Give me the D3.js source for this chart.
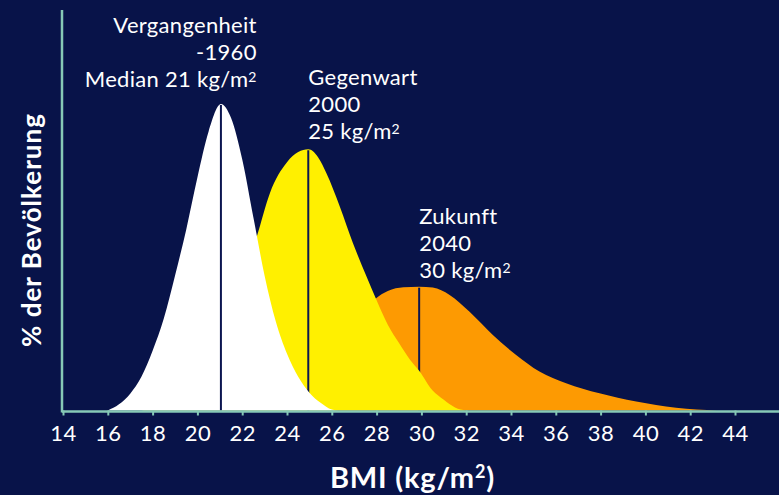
<!DOCTYPE html>
<html>
<head>
<meta charset="utf-8">
<script src="https://cdn.jsdelivr.net/npm/d3@7"></script>
<style>
  html, body { margin: 0; padding: 0; background: #081349; }
  svg { display: block; font-family: "Lato", "Noto Sans", sans-serif; }
</style>
</head>
<body>
<script>
// BMI tick labels on the x axis
var bmiTicks = [14, 16, 18, 20, 22, 24, 26, 28, 30, 32, 34, 36, 38, 40, 42, 44];

// share of population (relative, peak of 1960 = 100) by BMI
var past1960 = [[16, 0], [16.5, 2], [17, 5.5], [17.5, 11], [18, 19.5], [18.5, 30], [19, 44], [19.5, 59],
  [20, 76], [20.5, 91], [21.05, 100], [21.5, 95.5], [22, 82], [22.5, 63], [23, 44], [23.5, 29],
  [24, 18.5], [24.5, 11], [25, 5.8], [25.5, 2.5], [26, 0.3], [26.3, 0]];
var present2000 = [[17.5, 0], [18, 1], [19, 5], [20, 12], [21, 25], [22, 42], [22.65, 56.7], [23.24, 71],
  [24, 81], [24.5, 84.3], [24.95, 85.2], [25.4, 82.5], [25.76, 77.4], [26.36, 66.5], [26.95, 54.5],
  [27.55, 43.7], [28, 36], [28.5, 28], [29, 22], [29.5, 16.5], [29.9, 13], [30.5, 6.5], [31, 3.5],
  [31.5, 1], [32, 0]];
var future2040 = [[22, 0], [23, 1], [24, 4], [25, 9], [26, 17], [27, 27], [27.5, 32.5], [27.98, 36.6],
  [28.5, 39], [29.2, 40.2], [29.9, 40.4], [30.51, 40.1], [31.26, 37.7], [32.15, 32.2], [33.19, 24.6],
  [34.23, 18.1], [35.27, 12.7], [36.46, 8.9], [37.95, 5.6], [39.59, 2.9], [41.37, 0.9], [43.2, 0]];

var seriesColors = ["#fd9a02", "#fff000", "#ffffff"];
var medianBMI = [29.9, 24.95, 21.05];
var medianShare = [40.4, 85.2, 100];

var labelLines = [
  ["Zukunft", "2040", "30 kg/m"],
  ["Gegenwart", "2000", "25 kg/m"],
  ["Vergangenheit", "-1960", "Median 21 kg/m"]
];

var width = 779, height = 495;
var svg = d3.select("body").append("svg")
  .attr("width", width)
  .attr("height", height);

svg.append("rect").attr("width", width).attr("height", height).attr("fill", "#081349");

var x = d3.scaleLinear().domain([14, 44]).range([63, 735]);
var y = d3.scaleLinear().domain([0, 100]).range([410.5, 104]);

var area = d3.area()
  .x(function(d) { return x(d[0]); })
  .y0(y(0))
  .y1(function(d) { return y(d[1]); })
  .curve(d3.curveMonotoneX);

var curves = [future2040, present2000, past1960];

// back to front: orange, yellow, white; each median line sits under the next curve
curves.forEach(function(c, i) {
  svg.append("path")
    .datum(c)
    .attr("d", area)
    .attr("fill", seriesColors[i]);
  svg.append("line")
    .attr("x1", x(medianBMI[i])).attr("x2", x(medianBMI[i]))
    .attr("y1", y(medianShare[i]) + 1).attr("y2", y(0))
    .attr("stroke", "#0b1550")
    .attr("stroke-width", 2);
});

// axes
var axisColor = "#86c9b6";
var xAxis = svg.append("g")
  .attr("transform", "translate(0," + y(0) + ")")
  .call(d3.axisBottom(x).tickValues(bmiTicks).tickSize(5).tickSizeOuter(0).tickPadding(10));
xAxis.select(".domain").remove();
xAxis.selectAll(".tick line").attr("stroke", axisColor).attr("stroke-width", 2);
xAxis.selectAll(".tick text")
  .attr("fill", "#ffffff")
  .attr("font-size", 22)
  .attr("letter-spacing", 0.5)
  .attr("font-family", "Lato, sans-serif");

svg.append("line")
  .attr("x1", x(14) - 1).attr("x2", width)
  .attr("y1", y(0) + 1).attr("y2", y(0) + 1)
  .attr("stroke", axisColor).attr("stroke-width", 2.5);
svg.append("line")
  .attr("x1", x(14) - 1).attr("x2", x(14) - 1)
  .attr("y1", 10).attr("y2", y(0) + 2)
  .attr("stroke", axisColor).attr("stroke-width", 2.5);

// annotations
function addLabel(lines, xPos, yPos, anchor) {
  var t = svg.append("text")
    .attr("fill", "#ffffff")
    .attr("font-size", 22)
    .attr("letter-spacing", 0.3)
    .attr("text-anchor", anchor);
  lines.forEach(function(s, k) {
    t.append("tspan").attr("x", xPos).attr("y", yPos + k * 27).text(s);
    if (k === lines.length - 1) {
      t.append("tspan").attr("font-size", 14).attr("dy", -5).text("2");
    }
  });
}
addLabel(labelLines[0], x(medianBMI[0]), y(medianShare[0]) - 63, "start");
addLabel(labelLines[1], x(medianBMI[1]), y(medianShare[1]) - 64, "start");
addLabel(labelLines[2], x(22.65), y(medianShare[2]) - 71, "end");

// axis titles
var xt = svg.append("text")
  .attr("x", x(29.6)).attr("y", 488)
  .attr("text-anchor", "middle")
  .attr("fill", "#ffffff")
  .attr("font-weight", "bold")
  .attr("letter-spacing", 0.8)
  .attr("font-size", 29);
xt.append("tspan").text("BMI (kg/m");
xt.append("tspan").attr("font-size", 18).attr("dy", -10).text("2");
xt.append("tspan").attr("dy", 10).text(")");

svg.append("text")
  .attr("transform", "translate(41,230) rotate(-90)")
  .attr("text-anchor", "middle")
  .attr("fill", "#ffffff")
  .attr("font-weight", "bold")
  .attr("letter-spacing", 1)
  .attr("font-size", 26)
  .text("% der Bevölkerung");
</script>
</body>
</html>
